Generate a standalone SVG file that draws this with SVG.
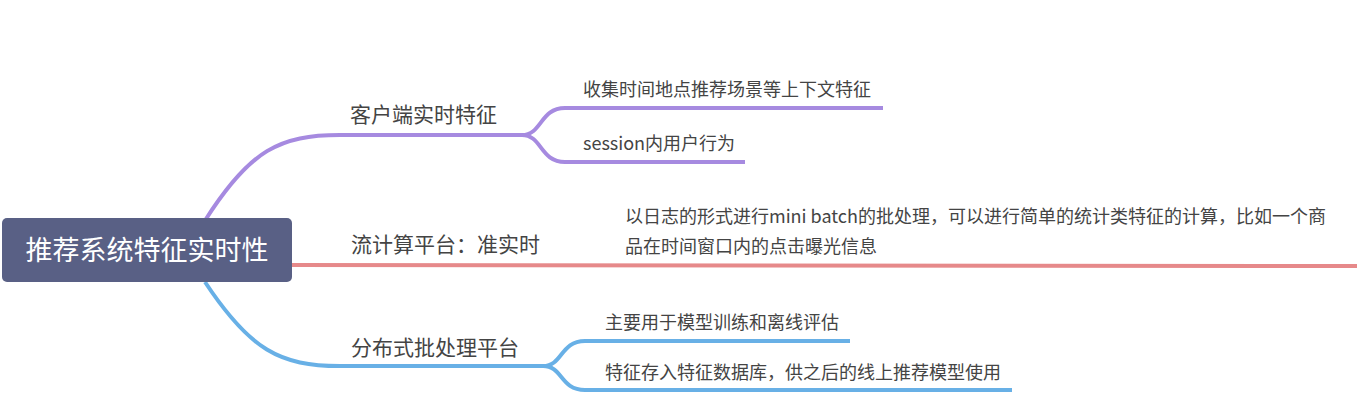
<svg xmlns="http://www.w3.org/2000/svg" width="1370" height="416" viewBox="0 0 1370 416">
<style>
.t{font-family:"Noto Sans CJK SC","Noto Sans",sans-serif;fill:#444444}
.l1{font-size:21px}
.l2{font-size:18px}
.c{fill:none;stroke-width:4;stroke-linecap:butt}
.p{stroke:#a68ae0}
.r{stroke:#e6898a}
.b{stroke:#68b0e6}
</style>
<rect width="1370" height="416" fill="#ffffff"/>
<g id="connectors">
<path class="c p" d="M206 219 C250 150 280 135 340 135 L522 135"/>
<path class="c p" d="M522 135 C542 135 540 108 565 108 L883 108"/>
<path class="c p" d="M522 135 C542 135 540 162 565 162 L745 162"/>
<path class="c r" d="M292 265 L1357 266"/>
<path class="c b" d="M205 282 C250 350 280 366 340 366 L543 366"/>
<path class="c b" d="M543 366 C563 366 560 341 585 341 L850 341"/>
<path class="c b" d="M543 366 C563 366 560 390 585 390 L1012 390"/>
</g>
<g id="root">
<rect x="2" y="218" width="290" height="64" rx="5" fill="#596085"/>
<text x="147" y="260" text-anchor="middle" font-family="Noto Sans CJK SC,Noto Sans,sans-serif" font-size="27" fill="#ffffff">推荐系统特征实时性</text>
</g>
<g id="n1"><text class="t l1" x="350" y="122">客户端实时特征</text></g>
<g id="n1a"><text class="t l2" x="583" y="96">收集时间地点推荐场景等上下文特征</text></g>
<g id="n1b"><text class="t l2" x="583" y="150">session内用户行为</text></g>
<g id="n2"><text class="t l1" x="351" y="252">流计算平台：准实时</text></g>
<g id="n2a"><text class="t l2" x="625" y="223">以日志的形式进行mini batch的批处理，可以进行简单的统计类特征的计算，比如一个商</text><text class="t l2" x="625" y="253">品在时间窗口内的点击曝光信息</text></g>
<g id="n3"><text class="t l1" x="351" y="355">分布式批处理平台</text></g>
<g id="n3a"><text class="t l2" x="605" y="329">主要用于模型训练和离线评估</text></g>
<g id="n3b"><text class="t l2" x="605" y="379">特征存入特征数据库，供之后的线上推荐模型使用</text></g>
</svg>
